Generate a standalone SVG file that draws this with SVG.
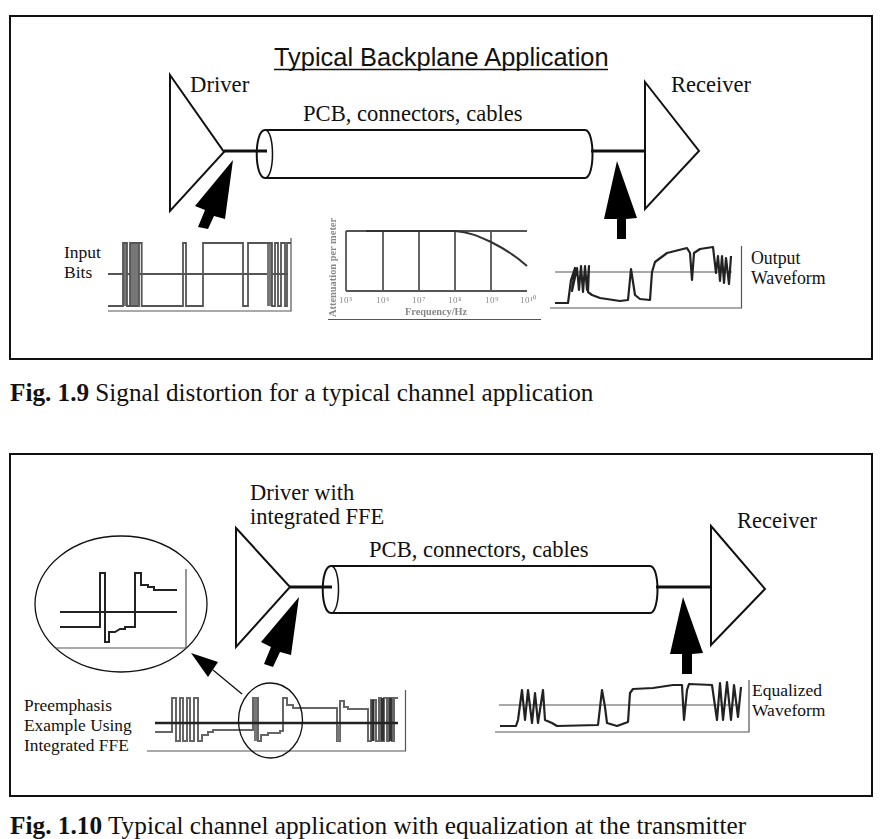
<svg xmlns="http://www.w3.org/2000/svg" width="881" height="839" viewBox="0 0 881 839">
<defs>
<filter id="soft" x="-5%" y="-5%" width="110%" height="110%"><feGaussianBlur stdDeviation="0.45"/></filter>
<style>
.s{font-family:"Liberation Serif",serif;fill:#111}
.a{font-family:"Liberation Sans",sans-serif;fill:#111}
.b{fill:none;stroke:#111;stroke-width:2}
.l{fill:none;stroke:#111;stroke-width:1.5}
.t{fill:#fff;stroke:#111;stroke-width:2}
.w{fill:none;stroke:#222;stroke-width:2.200;stroke-linejoin:round}
.g{fill:none;stroke:#555;stroke-width:1.800}
.d{fill:none;stroke:#555;stroke-width:1.200}
.h{fill:none;stroke:#111;stroke-width:3}
.ar{fill:#000}
.m{font-family:"Liberation Serif",serif;fill:#888;font-size:9px;letter-spacing:.6px}
</style></defs>
<rect width="881" height="839" fill="#fff"/>
<rect class="b" x="10" y="16" width="862" height="343"/>
<rect class="b" x="10" y="454" width="862" height="342"/>
<text class="a" x="274" y="66" font-size="25.400">Typical Backplane Application</text>
<path d="M274 69.500H608" stroke="#111" stroke-width="1.500"/>
<text class="s" x="10" y="401" font-size="25.200"><tspan font-weight="bold">Fig. 1.9</tspan> Signal distortion for a typical channel application</text>
<text class="s" x="10" y="834" font-size="25.300"><tspan font-weight="bold">Fig. 1.10</tspan> Typical channel application with equalization at the transmitter</text>

<g id="driver1"><path class="t" d="M170 75L224 152L170 211Z"/><text class="s" x="190" y="92" font-size="22.700">Driver</text></g>
<g id="receiver1"><path class="t" d="M645 82L699 151L645 209Z"/><text class="s" x="671" y="92" font-size="22.500">Receiver</text></g>
<g id="cable1"><path class="t" d="M265 130H585C595 130 595 178 585 178H265C254 178 254 130 265 130Z"/><path class="l" d="M265 130C275 130 275 178 265 178"/><text class="s" x="303" y="121" font-size="22.600">PCB, connectors, cables</text></g>

<g id="driver2"><path class="t" d="M236 528L290 587L236 647Z"/><text class="s" x="250" y="500" font-size="22.500">Driver with</text><text class="s" x="250" y="524" font-size="22.500">integrated FFE</text></g>
<g id="receiver2"><path class="t" d="M711 526L765 589L711 645Z"/><text class="s" x="737" y="528" font-size="22.500">Receiver</text></g>
<g id="cable2"><path class="t" d="M331 566H650C660 566 660 613 650 613H331C320 613 320 566 331 566Z"/><path class="l" d="M331 566C341 566 341 613 331 613"/><text class="s" x="369" y="557" font-size="22.600">PCB, connectors, cables</text></g>

<g id="connectors">
<path class="h" d="M224 151H267M591 151H645M290 587H332M656 587H711"/>
<path class="ar" d="M233 160L195 206L205 210L198 227L208 229L214 216L225 219Z"/>
<path class="ar" d="M617 161L604 219L617 219V239H626V219L637 218Z"/>
<path class="ar" d="M299 597L261 642L271 647L264 664L273 667L280 652L291 655Z"/>
<path class="ar" d="M683 597L670 654L682 654V674H692V654L703 653Z"/>
<path d="M242 694L213 670" stroke="#111" stroke-width="1.300" fill="none"/>
<path class="ar" d="M191 653L218 662L208 677Z"/>
</g>

<g id="input-bits">
<text class="s" x="64" y="258" font-size="17.500">Input</text><text class="s" x="64" y="278" font-size="17.500">Bits</text>
<g filter="url(#soft)">
<path class="d" d="M108 311H291V238"/>
<path class="g" stroke-width="1.500" d="M108 274H288"/>
<rect x="123" y="243" width="4" height="63" fill="#777"/><rect x="130" y="243" width="9" height="63" fill="#777"/>
<rect x="267" y="243" width="5" height="63" fill="#777"/>
<path class="g" d="M108 306H123V243H127V306H130V243H139V306H130M139 243H141.700V306H183V243H186V306H203V243H243V306H248V243H272V306H275V243H278V306H281V243H285V306H287V243H291"/>
</g>
</g>

<g id="attenuation">
<g filter="url(#soft)">
<text class="m" font-weight="bold" transform="translate(336 317) rotate(-90)" style="font-size:10.400px;letter-spacing:0">Attenuation per meter</text>
<path class="d" d="M328 319.500H541"/>
<path class="g" stroke="#444" d="M346 231H527M346 231V291M383 231V291M419 231V291M455 231V291M491 231V291M346 291H527"/>
<path fill="none" stroke="#333" stroke-width="2" d="M366 231H455C470 232 480 237 491 242C505 249 516 256 527 266"/>
<text class="m" x="339" y="303">10⁵</text><text class="m" x="376" y="303">10⁶</text><text class="m" x="412" y="303">10⁷</text><text class="m" x="448" y="303">10⁸</text><text class="m" x="485" y="303">10⁹</text><text class="m" x="520" y="303">10¹⁰</text>
<text class="m" x="405" y="315" font-weight="bold" style="font-size:10.300px;letter-spacing:0">Frequency/Hz</text>
</g>
</g>

<g id="output-waveform">
<text class="s" x="751" y="264" font-size="17.800">Output</text><text class="s" x="751" y="284" font-size="17.800">Waveform</text>
<g filter="url(#soft)">
<path class="d" d="M550 308H741.500V246"/>
<path class="d" stroke="#444" d="M555 272H732"/>
<path class="w" d="M555 303H568L571 280L575 268L572 291L577 268L579 290L581 266L583 292L585 266L587 290L589 266L588 292L592 295L600 298L620 301L628 300L631 269L635 295L640 299L650 300L652 272L655 262L667 253L687 248L690 253L692 280L694 253L700 249L713 247L716 273L718 256L720 281L722 256L724 283L726 258L729 284L731 256"/>
</g>
</g>

<g id="zoom">
<ellipse cx="121" cy="604" rx="86" ry="68" fill="none" stroke="#111" stroke-width="1.300"/>
<g filter="url(#soft)">
<path class="d" stroke="#444" d="M56 648H186V569"/>
<path fill="none" stroke="#222" stroke-width="2" d="M60 612H177M60 627H100V573H105V642H109V632H115L120 629H125V627H135V573H141V585H148V587H154V590H177"/>
</g>
</g>

<g id="preemphasis">
<text class="s" x="24" y="711" font-size="17.400">Preemphasis</text><text class="s" x="24" y="731" font-size="17.400">Example Using</text><text class="s" x="24" y="751" font-size="17.400">Integrated FFE</text>
<g filter="url(#soft)">
<path class="d" stroke="#444" d="M147 751H405.500V690"/>
<path fill="none" stroke="#666" stroke-width="2" d="M155 732H172V698H176V741H180V698H183V741H187V698H190V741H194V698H198V741H202V735H208V732H213V730H253V698H258V741H261V735H268V733H280V731H283V698H287V705H293V708H337V741H340V701H344V707H348V709H368V741H371V700H376V741H379V698H381V741H384V698H387V741H389V698H392V741H394V698H398"/>
<path stroke="#777" stroke-width="3" d="M255.500 698V741M338.500 725V741"/>
<path stroke="#333" stroke-width="3" d="M373 700V741M382.500 698V741M390.500 698V741"/>
<path d="M155 723H398" stroke="#222" stroke-width="2.500" fill="none"/>
</g>
<ellipse cx="270.500" cy="720.500" rx="32" ry="37.500" fill="none" stroke="#111" stroke-width="1.300"/>
</g>

<g id="equalized">
<text class="s" x="752" y="696" font-size="17.500">Equalized</text><text class="s" x="752" y="716" font-size="17.500">Waveform</text>
<g filter="url(#soft)">
<path class="d" stroke="#444" d="M495 732H749V680"/>
<path class="d" stroke="#444" d="M499 705H740"/>
<path class="w" d="M500 726H516L518 720L522 690L525 720L528 690L532 723L535 693L538 723L543 690L545 720L552 723L557 726L598 725L602 690L605 707L607 723L617 726L628 722L630 693L633 689L653 688L673 685H682L683 703L684 720L687 690L689 684L712 685L717 720L720 683L723 720L727 682L731 720L734 685L738 717L741 687"/>
</g>
</g>
</svg>
